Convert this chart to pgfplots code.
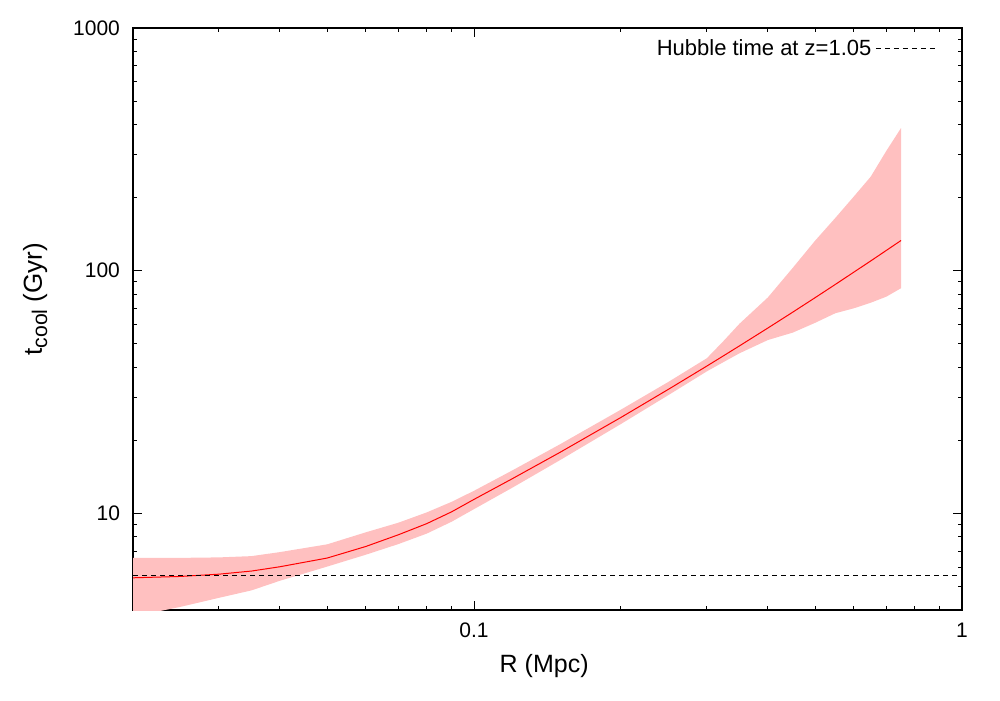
\documentclass[border=0pt]{standalone}
\usepackage{fontspec}
\setmainfont{Liberation Sans}
\usepackage{pgfplots}
\pgfplotsset{compat=1.18}
\usepgfplotslibrary{fillbetween}

\definecolor{bandpink}{RGB}{255,192,192}

% R (Mpc), t_cool median, lower and upper edge of the band (Gyr)
\pgfplotstableread{
x      mid    lo     up
0.020  5.43   3.76   6.56
0.025  5.50   4.12   6.56
0.030  5.62   4.49   6.59
0.035  5.79   4.82   6.67
0.040  6.03   5.28   6.93
0.050  6.55   6.04   7.46
0.060  7.31   6.76   8.36
0.070  8.17   7.48   9.16
0.080  9.08   8.26   10.1
0.090  10.16  9.25   11.17
0.100  11.43  10.42  12.4
0.120  13.93  12.79  15.07
0.150  17.85  16.58  19.27
0.200  24.86  23.36  26.77
0.250  32.43  30.7   34.8
0.300  40.48  38.5   43.6
0.325  44.7   42.1   51.5
0.350  49.03  45.7   60.5
0.400  58.05  51.8   77.6
0.450  67.52  55.6   102.8
0.500  77.45  61.0   133
0.550  87.8   66.8   165
0.600  98.6   70.0   202
0.650  109.7  73.8   244
0.700  121.3  78.2   312
0.750  133.2  84.7   387
}\tcool

\begin{document}
\begin{tikzpicture}
\begin{axis}[
    scale only axis,
    width=414.5pt,
    height=291pt,
    xmode=log, ymode=log,
    xmin=0.02, xmax=1,
    ymin=4, ymax=1000,
    xtick={0.1,1}, xticklabels={0.1,1},
    ytick={10,100,1000}, yticklabels={10,100,1000},
    minor xtick={0.03,0.04,0.05,0.06,0.07,0.08,0.09,0.2,0.3,0.4,0.5,0.6,0.7,0.8,0.9},
    minor ytick={5,6,7,8,9,20,30,40,50,60,70,80,90,200,300,400,500,600,700,800,900},
    tick align=inside,
    major tick length=4.5pt,
    minor tick length=2.25pt,
    every tick/.style={black, line width=0.5pt},
    axis line style={black, line width=0.75pt},
    /pgf/number format/assume math mode=true,
    tick label style={font=\fontsize{10.5}{12}\selectfont},
    xticklabel style={yshift=-3pt},
    yticklabel style={xshift=-3pt},
    xlabel={R (Mpc)},
    ylabel={t\raisebox{-0.4ex}{\fontsize{10.6}{12}\selectfont cool} (Gyr)},
    label style={font=\fontsize{13}{15}\selectfont},
    xlabel style={at={(axis description cs:0.496,-0.096)}, anchor=center, font=\fontsize{12.5}{14}\selectfont},
    ylabel style={at={(axis description cs:-0.118,0.534)}, anchor=center},
    legend style={draw=none, fill=none, at={(axis description cs:0.98,0.995)},
        anchor=north east, font=\fontsize{11}{13}\selectfont},
    legend plot pos=right,
    legend cell align=right,
    legend image code/.code={\draw[#1] (0cm,0cm) -- (1.1cm,0cm);},
]
\addplot[name path=up, draw=none, forget plot] table[x=x, y=up] {\tcool};
\addplot[name path=lo, draw=none, forget plot] table[x=x, y=lo] {\tcool};
\addplot[bandpink, forget plot] fill between[of=up and lo];
\addplot[red, line width=0.5pt, forget plot] table[x=x, y=mid] {\tcool};
\addplot[black, line width=0.5pt, dash pattern=on 2.5pt off 2pt] coordinates {(0.02,5.55) (1,5.55)};
\addlegendentry{Hubble time at z=1.05\hspace{6pt}}
\end{axis}
\path ([shift={(-66.5pt,-45pt)}]current axis.south west) rectangle ([shift={(19pt,14pt)}]current axis.north east);
\end{tikzpicture}
\end{document}
